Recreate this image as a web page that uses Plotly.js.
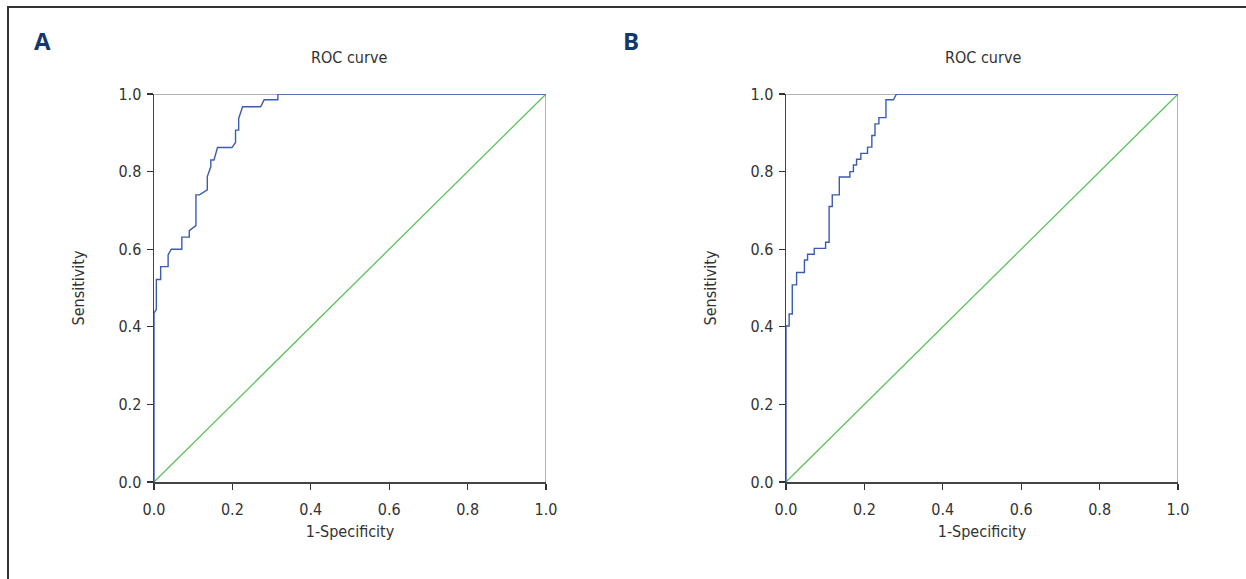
<!DOCTYPE html>
<html>
<head>
<meta charset="utf-8">
<script src="https://cdn.plot.ly/plotly-3.0.1.min.js"></script>
<style>
  html, body { margin: 0; padding: 0; background: #fff; }
  #wrap { position: absolute; left: 0; top: 0; width: 1246px; height: 579px; }
  #frame { position: absolute; left: 7px; top: 6px; width: 1239px; height: 573px;
           border-top: 2px solid #333; border-left: 2px solid #333; box-sizing: border-box; }
  #chart { position: absolute; left: 0; top: 0; width: 1246px; height: 579px; }
</style>
</head>
<body>
<div id="wrap"><div id="frame"></div><div id="chart"></div></div>
<script>
// ROC curve A (1-Specificity, Sensitivity)
const fprA = [0, 0, 0.006, 0.006, 0.017, 0.017, 0.036, 0.036, 0.044, 0.071, 0.071, 0.090, 0.090, 0.107, 0.107, 0.116, 0.136, 0.136, 0.145, 0.145, 0.153, 0.162, 0.199, 0.208, 0.208, 0.216, 0.216, 0.226, 0.272, 0.281, 0.316, 0.316, 1];
const tprA = [0, 0.435, 0.445, 0.522, 0.522, 0.555, 0.555, 0.585, 0.600, 0.600, 0.631, 0.631, 0.648, 0.661, 0.740, 0.740, 0.753, 0.787, 0.813, 0.830, 0.830, 0.862, 0.862, 0.875, 0.907, 0.907, 0.937, 0.967, 0.967, 0.985, 0.985, 1.0, 1.0];
// ROC curve B
const fprB = [0, 0, 0.008, 0.008, 0.016, 0.016, 0.027, 0.027, 0.047, 0.047, 0.055, 0.055, 0.072, 0.072, 0.101, 0.101, 0.110, 0.110, 0.118, 0.118, 0.136, 0.136, 0.163, 0.163, 0.172, 0.172, 0.180, 0.180, 0.191, 0.191, 0.208, 0.208, 0.219, 0.219, 0.227, 0.227, 0.237, 0.237, 0.255, 0.255, 0.274, 0.282, 1];
const tprB = [0, 0.402, 0.402, 0.433, 0.433, 0.508, 0.508, 0.540, 0.540, 0.572, 0.572, 0.587, 0.587, 0.602, 0.602, 0.618, 0.618, 0.710, 0.710, 0.740, 0.740, 0.786, 0.786, 0.800, 0.800, 0.817, 0.817, 0.832, 0.832, 0.847, 0.847, 0.863, 0.863, 0.893, 0.893, 0.923, 0.923, 0.939, 0.939, 0.985, 0.985, 1.0, 1.0];
// Reference diagonal
const refX = [0, 1];
const refY = [0, 1];
// Tick labels
const tickVals = [0, 0.2, 0.4, 0.6, 0.8, 1.0];
const tickText = ['0.0', '0.2', '0.4', '0.6', '0.8', '1.0'];
const panelLabels = ['A', 'B'];
const chartTitle = 'ROC curve';
const xTitle = '1-Specificity';
const yTitle = 'Sensitivity';

const W = 1246, H = 579;
const domA = [154 / W, 546 / W];
const domB = [786 / W, 1178 / W];
const domY = [1 - 482 / H, 1 - 94 / H];

const FONT = '"Liberation Sans Narrow", "DejaVu Sans Condensed", "Arial Narrow", sans-serif';
const BLUE = '#3b5cae';
const GREEN = '#5cc25c';

function axis(dom, anchor, isX) {
  return {
    domain: dom, anchor: anchor, range: [0, 1],
    tickvals: tickVals, ticktext: tickText,
    ticks: 'outside', ticklen: 6, tickwidth: 1.4, tickcolor: '#333',
    ticklabelstandoff: isX ? 6 : 2,
    showline: true, linecolor: '#444', linewidth: 1.5,
    showgrid: false, zeroline: false, fixedrange: true,
    tickfont: { family: FONT, size: 16, color: '#333' }
  };
}

const traces = [
  { x: refX, y: refY, xaxis: 'x', yaxis: 'y', mode: 'lines', line: { color: GREEN, width: 1.3 }, hoverinfo: 'skip' },
  { x: fprA, y: tprA, xaxis: 'x', yaxis: 'y', mode: 'lines', line: { color: BLUE, width: 1.4 } },
  { x: refX, y: refY, xaxis: 'x2', yaxis: 'y2', mode: 'lines', line: { color: GREEN, width: 1.3 }, hoverinfo: 'skip' },
  { x: fprB, y: tprB, xaxis: 'x2', yaxis: 'y2', mode: 'lines', line: { color: BLUE, width: 1.4 } }
];

const titleFont = { family: FONT, size: 16, color: '#333' };
const xa = axis(domA, 'y', true);
xa.title = { text: xTitle, font: titleFont, standoff: 8 };
const ya = axis(domY, 'x', false);
ya.title = { text: yTitle, font: titleFont, standoff: 30 };
const xb = axis(domB, 'y2', true);
xb.title = { text: xTitle, font: titleFont, standoff: 8 };
const yb = axis(domY, 'x2', false);
yb.title = { text: yTitle, font: titleFont, standoff: 30 };

function frameShapes(xr, yr) {
  return [
    { type: 'line', xref: xr, yref: yr, x0: 0, x1: 1, y0: 1, y1: 1, line: { color: '#999', width: 1.5 }, layer: 'below' },
    { type: 'line', xref: xr, yref: yr, x0: 1, x1: 1, y0: 0, y1: 1, line: { color: '#999', width: 1.5 }, layer: 'below' }
  ];
}

const layout = {
  width: W, height: H,
  margin: { l: 0, r: 0, t: 0, b: 0 },
  paper_bgcolor: 'rgba(0,0,0,0)', plot_bgcolor: 'rgba(0,0,0,0)',
  showlegend: false,
  xaxis: xa, yaxis: ya, xaxis2: xb, yaxis2: yb,
  shapes: frameShapes('x', 'y').concat(frameShapes('x2', 'y2')),
  annotations: [
    { text: '<b>' + panelLabels[0] + '</b>', xref: 'paper', yref: 'paper', x: 42 / W, y: 1 - 41 / H, xanchor: 'center', yanchor: 'middle', showarrow: false, font: { family: '"Open Sans", "DejaVu Sans", sans-serif', size: 24, color: '#14386b' } },
    { text: '<b>' + panelLabels[1] + '</b>', xref: 'paper', yref: 'paper', x: 631 / W, y: 1 - 41 / H, xanchor: 'center', yanchor: 'middle', showarrow: false, font: { family: '"Open Sans", "DejaVu Sans", sans-serif', size: 24, color: '#14386b' } },
    { text: chartTitle, xref: 'paper', yref: 'paper', x: 349 / W, y: 1 - 57 / H, xanchor: 'center', yanchor: 'middle', showarrow: false, font: titleFont },
    { text: chartTitle, xref: 'paper', yref: 'paper', x: 983 / W, y: 1 - 57 / H, xanchor: 'center', yanchor: 'middle', showarrow: false, font: titleFont }
  ]
};

Plotly.newPlot('chart', traces, layout, { displayModeBar: false, staticPlot: true });
</script>
</body>
</html>
